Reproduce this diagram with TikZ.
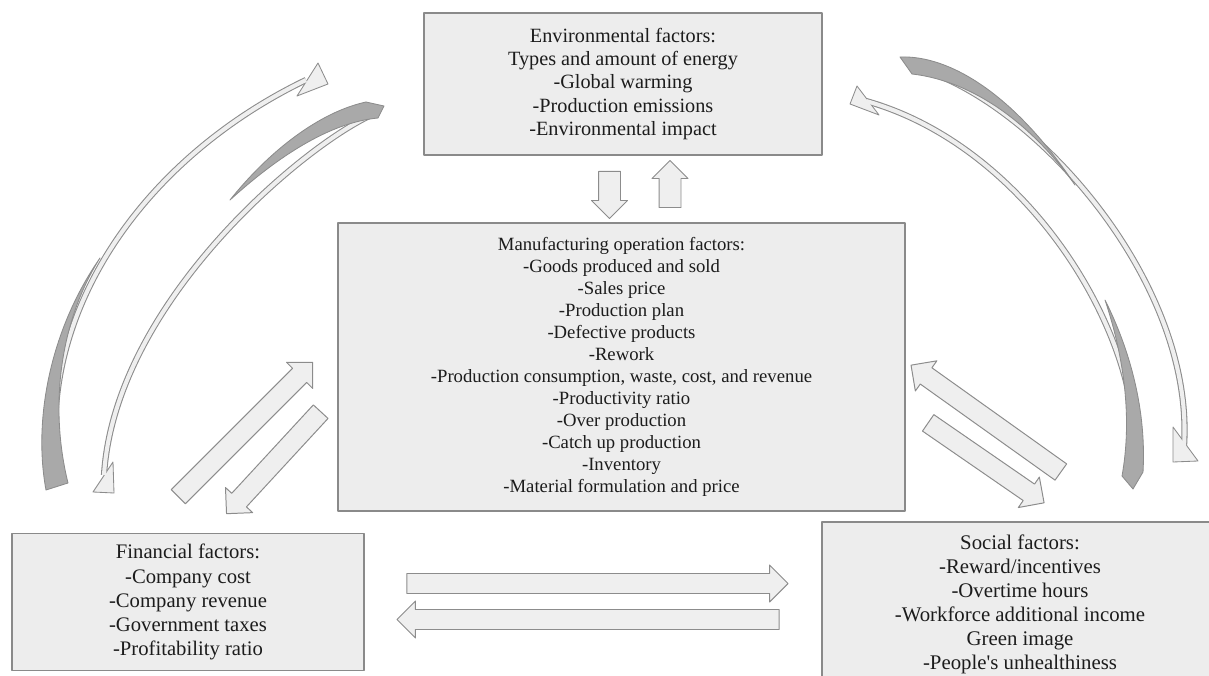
\documentclass[tikz,border=0pt]{standalone}
\usepackage{fontspec}
\setmainfont{Liberation Serif}
\usepackage{xcolor}
\usepackage{tikz}
\usetikzlibrary{shapes.arrows}

\definecolor{boxfill}{HTML}{EDEDED}
\definecolor{boxline}{HTML}{8A8A8A}
\definecolor{arrfill}{HTML}{EFEFEF}
\definecolor{arrline}{HTML}{8C8C8C}
\definecolor{backfill}{HTML}{A9A9A9}
\definecolor{txt}{HTML}{1C1C1C}

\begin{document}
\begin{tikzpicture}[x=0.025cm,y=-0.025cm,line join=round]
\tikzstyle{factor}=[draw=boxline,fill=boxfill,line width=0.9pt,align=center,
                    text=txt,inner sep=0pt]
\tikzstyle{blockarrow}=[single arrow,draw=arrline,fill=arrfill,line width=0.7pt,
                        inner xsep=0pt,inner ysep=6.76pt,single arrow head extend=6.05pt]
\tikzstyle{bandedge}=[draw=arrline,line width=4.4pt]
\tikzstyle{bandface}=[draw=arrfill,line width=2.9pt]
\tikzstyle{backside}=[fill=backfill,draw=arrline,line width=0.6pt]
\tikzstyle{curvehead}=[fill=arrfill,draw=arrline,line width=0.6pt]

\path[use as bounding box] (0,0) rectangle (1209,676);
\clip (0,0) rectangle (1209,676);

% factor boxes
\node[factor,minimum width=9.95cm,minimum height=3.55cm,
      font=\fontsize{14.4}{16.4}\selectfont] (env) at (623,84)
  {Environmental factors:\\Types and amount of energy\\-Global warming\\
   -Production emissions\\-Environmental impact};
\node[factor,minimum width=14.175cm,minimum height=7.2cm,
      font=\fontsize{13.3}{15.6}\selectfont] (manuf) at (621.5,367)
  {Manufacturing operation factors:\\-Goods produced and sold\\-Sales price\\
   -Production plan\\-Defective products\\-Rework\\
   -Production consumption, waste, cost, and revenue\\-Productivity ratio\\
   -Over production\\-Catch up production\\-Inventory\\
   -Material formulation and price};
\node[factor,minimum width=8.8cm,minimum height=3.425cm,
      font=\fontsize{14.7}{17.1}\selectfont] (fin) at (188,602)
  {Financial factors:\\-Company cost\\-Company revenue\\-Government taxes\\
   -Profitability ratio};
\node[factor,minimum width=9.9cm,minimum height=4.1cm,
      font=\fontsize{14.8}{17.1}\selectfont] (soc) at (1020,604)
  {Social factors:\\-Reward/incentives\\-Overtime hours\\
   -Workforce additional income\\Green image\\-People\textquotesingle s unhealthiness};

% straight block arrows
\node[blockarrow,inner ysep=7.47pt,single arrow head extend=4.98pt,
      minimum height=1.175cm,rotate=-90] (envdown) at (609.5,189.5) {};
\node[blockarrow,inner ysep=7.47pt,single arrow head extend=4.98pt,
      minimum height=1.175cm,rotate=90] (envup) at (670,189.5) {};
\node[blockarrow,minimum height=4.75cm,rotate=45] (finup) at (242,433) {};
\node[blockarrow,minimum height=3.47cm,rotate=227.3] (findown) at (277,459) {};
\node[blockarrow,minimum height=4.6cm,rotate=144.5] (socup) at (990,421.5) {};
\node[blockarrow,minimum height=3.52cm,rotate=-34.6] (socdown) at (982,460) {};
\node[blockarrow,minimum height=9.525cm] (finsoc) at (592.5,583.5) {};
\node[blockarrow,minimum height=9.55cm,rotate=180] (socfin) at (593,619.5) {};

% curved arrows, left side
\draw[bandedge] (60,485) .. controls (30,320) and (140,160) .. (306,80);
\draw[curvehead] (318,63) -- (328,84) -- (297,96) -- cycle;
\draw[bandface] (60,485) .. controls (30,320) and (140,160) .. (306,80);
\draw[backside] (46,490) .. controls (33,420) and (50,330) .. (100,258)
  .. controls (58,325) and (50,410) .. (68,483) -- cycle;

\draw[bandedge] (376,113) .. controls (310,140) and (115,300) .. (104,475);
\draw[curvehead] (113,462) -- (114,493) -- (93,492) -- cycle;
\draw[bandface] (376,113) .. controls (310,140) and (115,300) .. (104,475);
\draw[backside] (366,102) -- (384,106) -- (378,118)
  .. controls (335,122) and (285,150) .. (230,200)
  .. controls (270,150) and (320,112) .. cycle;

% curved arrows, right side
\draw[bandedge] (910,66) .. controls (1030,95) and (1195,280) .. (1184,446);
\draw[curvehead] (1173,427) -- (1173,462) -- (1198,461) -- cycle;
\draw[bandface] (910,66) .. controls (1030,95) and (1195,280) .. (1184,446);
\draw[backside] (900,57) .. controls (950,55) and (1015,95) .. (1075,185)
  .. controls (1025,115) and (965,80) .. (912,74) -- cycle;

\draw[bandedge] (1132,478) .. controls (1155,360) and (1040,150) .. (866,101);
\draw[curvehead] (857,86) -- (850,104) -- (879,115) -- cycle;
\draw[bandface] (1132,478) .. controls (1155,360) and (1040,150) .. (866,101);
\draw[backside] (1122,476) -- (1133,489) -- (1143,472)
  .. controls (1146,420) and (1135,360) .. (1105,300)
  .. controls (1125,360) and (1132,420) .. cycle;
\end{tikzpicture}
\end{document}
